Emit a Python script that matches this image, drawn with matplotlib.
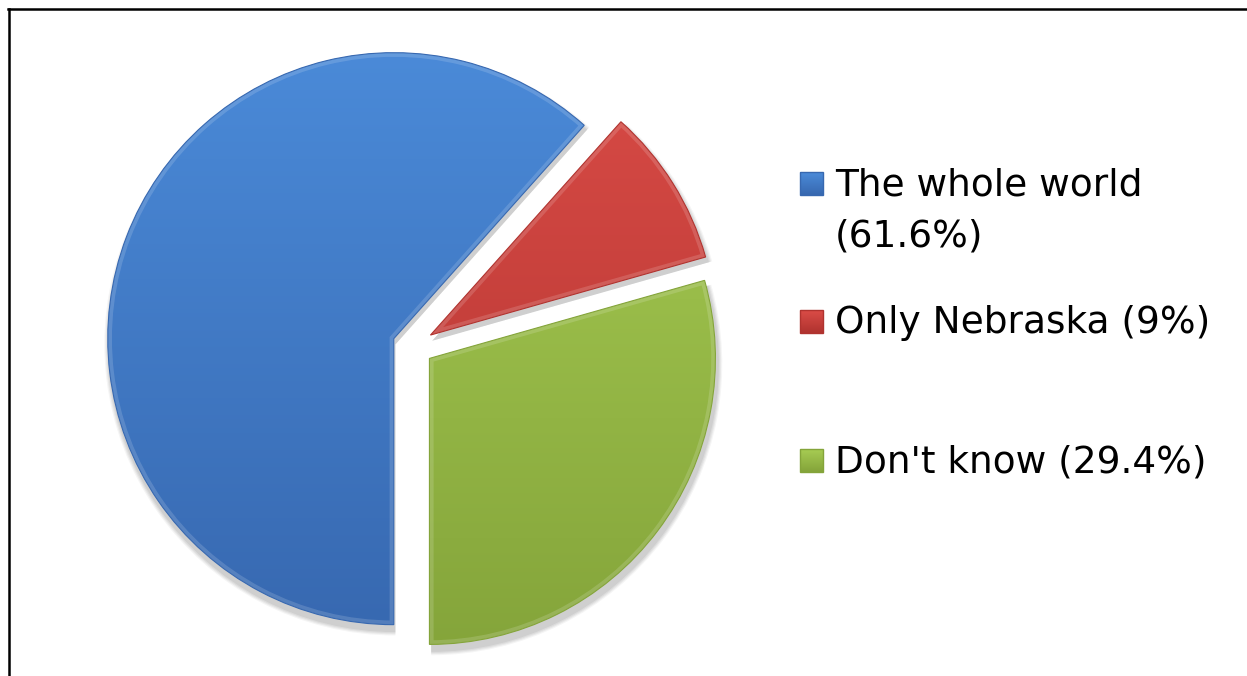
import numpy as np
import matplotlib
matplotlib.use("Agg")
import matplotlib.pyplot as plt
from matplotlib.colors import LinearSegmentedColormap
from matplotlib.patches import Rectangle, Wedge
from matplotlib.lines import Line2D

# survey answers, percent of respondents
categories = ["The whole world", "Only Nebraska", "Don't know"]
shares = [61.6, 9.0, 29.4]
legend_labels = [["The whole world", "(61.6%)"], ["Only Nebraska (9%)"], ["Don't know (29.4%)"]]

# (light, dark) pairs for the vertical gradient of each slice
slice_colors = [("#4b8bd9", "#3768b0"),
                ("#da4c47", "#b0332f"),
                ("#a7cc53", "#84a43a")]

W, H = 1247, 676
fig = plt.figure(figsize=(W / 100, H / 100), dpi=100)

# pie geometry in pixels
R_PX = 286
cx, cy = 413, 330
span = 1.5
ax = fig.add_axes([(cx - span * R_PX) / W, (cy - span * R_PX) / H,
                   2 * span * R_PX / W, 2 * span * R_PX / H])

wedges, _ = ax.pie(shares, explode=[0.072] * len(shares), startangle=-90,
                   counterclock=False, radius=1,
                   wedgeprops=dict(linewidth=0, facecolor="none"))

for w, (light, dark) in zip(wedges, slice_colors):
    x0, y0 = w.center
    # soft drop shadow
    for k, a in enumerate([0.04, 0.05, 0.05, 0.06]):
        grow = 0.018 - k * 0.004
        sh = Wedge((x0 + 0.006, y0 - 0.02), w.r + grow, w.theta1, w.theta2,
                   facecolor="#000000", edgecolor="none", alpha=a, zorder=1)
        ax.add_patch(sh)
    # white base so the shadow does not bleed through
    ax.add_patch(Wedge((x0, y0), w.r, w.theta1, w.theta2,
                       facecolor="white", edgecolor="none", zorder=1.5))
    # vertical gradient fill
    cmap = LinearSegmentedColormap.from_list("g", [dark, light])
    grad = np.linspace(1, 0, 256).reshape(-1, 1)
    im = ax.imshow(grad, cmap=cmap, extent=[x0 - 1.05, x0 + 1.05, y0 - 1.05, y0 + 1.05],
                   aspect="auto", zorder=2, interpolation="bilinear")
    im.set_clip_path(w)
    # bevel: light inner rim and dark outline
    rim = Wedge((x0, y0), w.r, w.theta1, w.theta2, facecolor="none",
                edgecolor="white", alpha=0.15, linewidth=6, zorder=3)
    ax.add_patch(rim)
    rim.set_clip_path(w)
    ax.add_patch(Wedge((x0, y0), w.r, w.theta1, w.theta2, facecolor="none",
                       edgecolor=dark, linewidth=0.8, zorder=4))

ax.set_xlim(-span, span)
ax.set_ylim(-span, span)
ax.set_aspect("equal")
ax.axis("off")

# legend drawn at fixed pixel positions
sq = 23
text_x = 835
baselines = [195, 333, 472]
line_step = 52
for (light, dark), lines, base in zip(slice_colors, legend_labels, baselines):
    key = Rectangle((800 / W, (H - base) / H), sq / W, sq / H,
                    transform=fig.transFigure, facecolor="none",
                    edgecolor=dark, linewidth=1)
    fig.add_artist(key)
    cmap = LinearSegmentedColormap.from_list("k", [dark, light])
    kax = fig.add_axes([800 / W, (H - base) / H, sq / W, sq / H])
    kax.imshow(np.linspace(1, 0, 32).reshape(-1, 1), cmap=cmap, aspect="auto")
    kax.axis("off")
    for i, txt in enumerate(lines):
        fig.text(text_x / W, (H - base - i * line_step) / H, txt, fontsize=27,
                 family="DejaVu Sans", va="baseline", ha="left", color="black")

# chart frame (top and left edges visible)
fig.add_artist(Line2D([8 / W, 1], [1 - 9 / H, 1 - 9 / H], transform=fig.transFigure,
                      color="black", linewidth=1.8))
fig.add_artist(Line2D([9 / W, 9 / W], [0, 1 - 9 / H], transform=fig.transFigure,
                      color="black", linewidth=1.8))

fig.savefig("out.png", dpi=100)
